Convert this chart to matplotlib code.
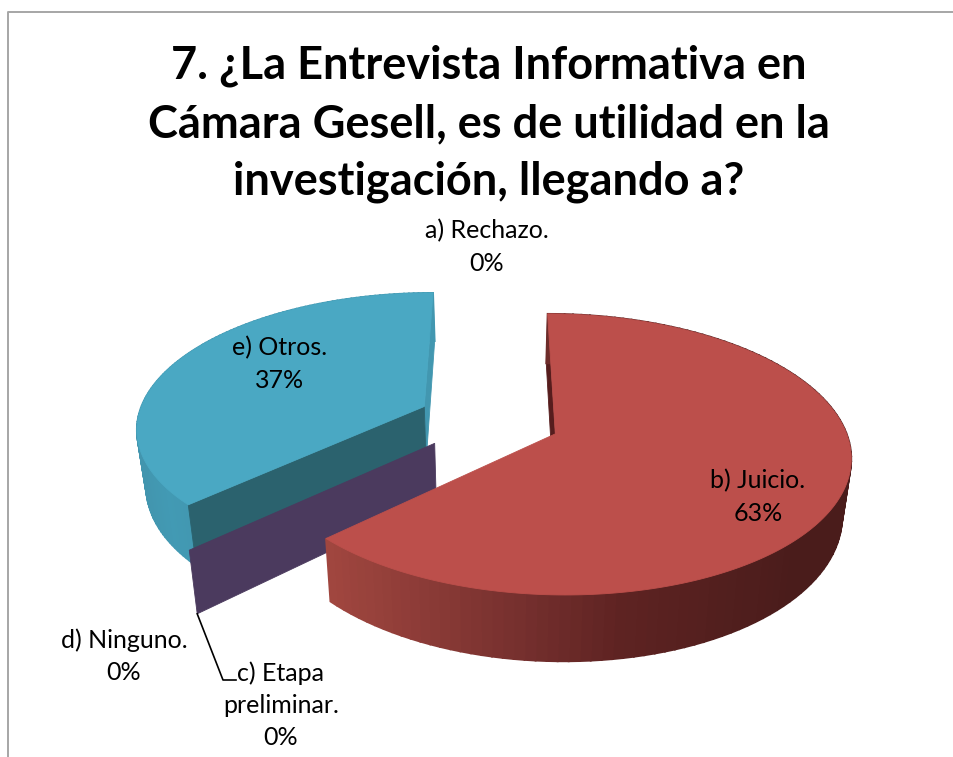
#!/usr/bin/env python3
import numpy as np
import matplotlib
matplotlib.use('Agg')
import matplotlib.pyplot as plt
from matplotlib.colors import to_rgb

# datos
categories = ['a) Rechazo.', 'b) Juicio.', 'c) Etapa\npreliminar.', 'd) Ninguno.', 'e) Otros.']
values = [0, 63, 0, 0, 37]
title = '7. ¿La Entrevista Informativa en\nCámara Gesell, es de utilidad en la\ninvestigación, llegando a?'

# posicion de las etiquetas (pixeles)
label_pos = [(487, 247), (758, 497), (281, 705), (124, 656), (280, 364)]

# colores: cara superior, corte, lateral
RED_TOP, RED_CUT = '#bc4f4b', '#561d1d'
RED_SIDE = ['#a0463f', '#7a3230', '#5e2322', '#4a1c1b', '#4a1c1b']
RED_STOPS = [0.0, 0.33, 0.56, 0.9, 1.0]
BLUE_TOP, BLUE_CUT, BLUE_BACK = '#4aa8c3', '#2b626e', '#4297b0'
BLUE_SIDE = ['#4295ae', '#429ab4', '#4297b0']
BLUE_STOPS = [0.0, 0.5, 1.0]
PURPLE = '#4b3a5e'

# perspectiva del pastel
XC, YC = 495, 423
RX, RY = 288, 134.4
P = 0.1444
HEIGHT = 56
SHRINK = 0.026

# desplazamiento de cada porcion
off_red = (0.207, 0.08)
off_blue = (-0.25, -0.125)
off_purple = (-0.205, 0.148)


def project(x, z, h=0.0):
    x, z = np.asarray(x, float), np.asarray(z, float)
    w = 1 / (1 - P * z)
    return XC + RX * x * w * (1 - SHRINK * h), YC + (RY * z + HEIGHT * h) * w


def rim(a, off):
    # angulo en grados, sentido horario desde arriba
    t = np.radians(a)
    return off[0] + np.sin(t), off[1] - np.cos(t)


def poly(ax, xs, ys, color, z, lw=0.6):
    ax.fill(xs, ys, color=color, lw=lw, zorder=z)


def blend(cols, stops, f):
    cols = np.array([to_rgb(c) for c in cols])
    return tuple(np.interp(f, stops, cols[:, i]) for i in range(3))


def flat_face(ax, a, off, color, z):
    # cara de corte entre el centro y el borde
    rx, rz = rim(a, off)
    x0, y0 = project(off[0], off[1])
    x1, y1 = project(rx, rz)
    x2, y2 = project(rx, rz, 1)
    x3, y3 = project(off[0], off[1], 1)
    poly(ax, [x0, x1, x2, x3], [y0, y1, y2, y3], color, z)


def side(ax, a0, a1, off, cols, stops, xr, z):
    # el degradado sigue la posicion horizontal, de izquierda a derecha
    angs = np.linspace(a0, a1, 120)
    for i in range(len(angs) - 1):
        xa, za = rim(angs[i], off)
        xb, zb = rim(angs[i + 1], off)
        px1, py1 = project([xa, xb], [za, zb])
        px2, py2 = project([xb, xa], [zb, za], 1)
        f = np.clip((px1.mean() - xr[0]) / (xr[1] - xr[0]), 0, 1)
        poly(ax, np.r_[px1, px2], np.r_[py1, py2], blend(cols, stops, f), z, lw=1.3)


def top(ax, a0, a1, off, color, z):
    angs = np.linspace(a0, a1, 200)
    xr, zr = rim(angs, off)
    px, py = project(np.r_[off[0], xr], np.r_[off[1], zr])
    poly(ax, px, py, color, z)


fig = plt.figure(figsize=(9.54, 7.57), dpi=100)
ax = fig.add_axes([0, 0, 1, 1])
ax.set_xlim(0, 954)
ax.set_ylim(757, 0)
ax.axis('off')

plt.rcParams['font.family'] = ['Lato', 'DejaVu Sans']

# marco
ax.plot([8.5, 8.5, 954], [757, 11.5, 11.5], color='#a6a6a6', lw=1.4, zorder=1)

# angulos a partir de los valores
total = sum(values)
ends = np.cumsum(values) * 360.0 / total
red_end = ends[1]

# porcion e)
side(ax, red_end, 360, off_blue, BLUE_SIDE, BLUE_STOPS, (137, 195), 2)
flat_face(ax, 360, off_blue, BLUE_BACK, 2.5)
flat_face(ax, red_end, off_blue, BLUE_CUT, 3)
top(ax, red_end, 360, off_blue, BLUE_TOP, 4)

# porcion d) (valor cero, solo el plano)
flat_face(ax, ends[3], off_purple, PURPLE, 5)

# porcion b)
flat_face(ax, 0, off_red, RED_CUT, 6)
side(ax, 0, red_end, off_red, RED_SIDE, RED_STOPS, (330, 850), 7)
top(ax, 0, red_end, off_red, RED_TOP, 8)

# linea guia de c)
lx, ly = project(*rim(ends[2], off_purple), 1)
ax.plot([lx, 223, 236], [ly, 680, 680], color='black', lw=1.2, zorder=9)

ax.text(489, 124, title, ha='center', va='center', fontsize=32.5, fontweight='bold',
        linespacing=1.47, color='black', zorder=10)

for name, val, (x, y) in zip(categories, values, label_pos):
    ax.text(x, y, '%s\n%d%%' % (name, val), ha='center', va='center', fontsize=18,
            linespacing=1.48, color='black', zorder=10)

fig.savefig('out.png', dpi=100)
